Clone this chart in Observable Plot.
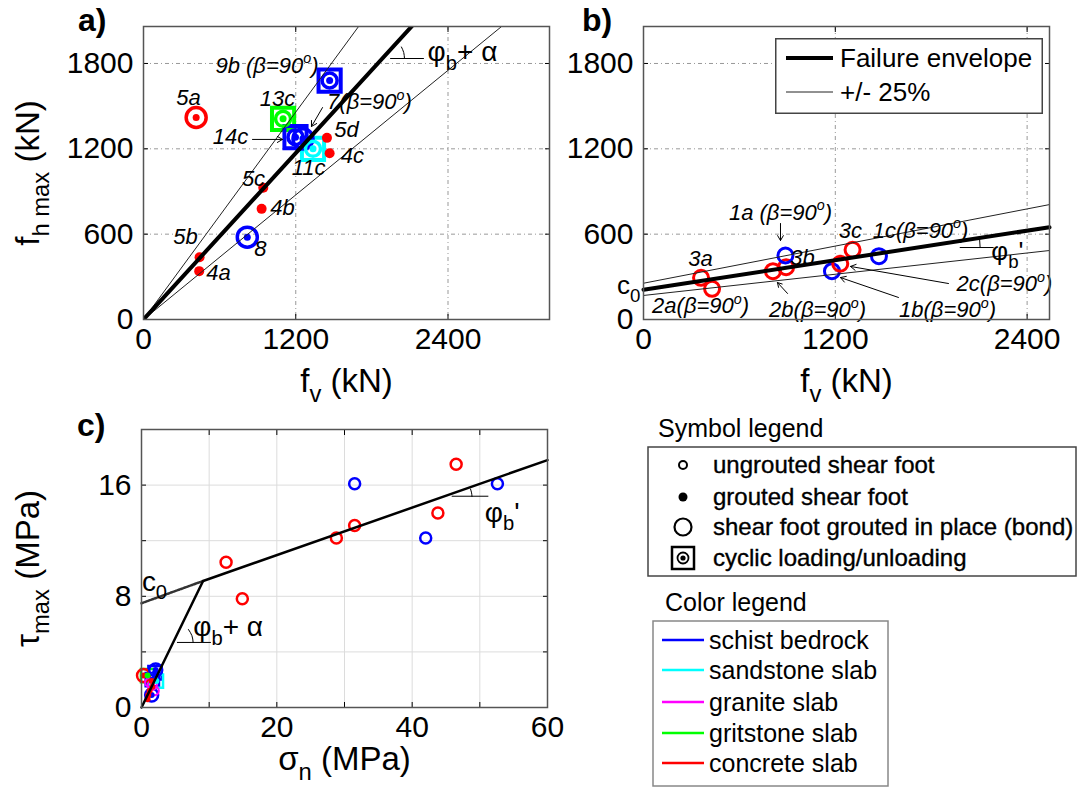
<!DOCTYPE html>
<html><head><meta charset="utf-8">
<script src="https://cdn.jsdelivr.net/npm/d3@7"></script>
<script src="https://cdn.jsdelivr.net/npm/@observablehq/plot@0.6"></script>
<style>
html,body{margin:0;padding:0;background:#fff;}
#root{position:relative;width:1077px;height:789px;overflow:hidden;background:#fff;font-family:"Liberation Sans",Arial,Helvetica,sans-serif;color:#000;}
.plab{position:absolute;font-weight:bold;font-size:32px;line-height:32px;}
</style></head><body><div id="root"></div>
<script>
// ---------------- data ----------------
const rockTypes = ["schist bedrock","sandstone slab","granite slab","gritstone slab","concrete slab"];
const rockColors = ["#0000ff","#00ffff","#ff00ff","#00ff00","#ff0000"];
const symbolLegend = ["ungrouted shear foot","grouted shear foot","shear foot grouted in place (bond)","cyclic loading/unloading"];

// panel a : fv (kN) vs fh max (kN)
const aTest = ["5a","8","9b","13c","11c","14c","7","5d","4c","5c","4b","5b","4a"];
const aFv   = [415,818,1467,1100,1336,1198,1257,1446,1467,944,931,442,439];
const aFh   = [1420,579,1680,1411,1200,1282,1270,1277,1169,926,778,438,340];
const aRock = ["concrete slab","schist bedrock","schist bedrock","gritstone slab","sandstone slab","schist bedrock","schist bedrock","concrete slab","concrete slab","concrete slab","concrete slab","concrete slab","concrete slab"];
const aKind = ["bond","bond","cyclic","cyclic","cyclic","cyclic","bond","grouted","grouted","grouted","grouted","grouted","grouted"];
const aXTicks = [0,1200,2400];
const aYTicks = [0,600,1200,1800];
const aLineFv  = [0,2154];   // failure envelope
const aPlusFv  = [0,1728];   // +25%
const aMinusFv = [0,2877];   // -25%
const aLineFh  = [0,2100];
const aNoteText = ["9b (β=90^{o})","5a","13c","7(β=90^{o})","14c","5d","4c","11c","5c","4b","8","5b","4a"];
const aNoteX    = [973,355,1056,1781,686,1600,1647,1301,867,1096,922,331,591];
const aNoteY    = [1786,1561,1554,1530,1280,1336,1150,1062,991,787,499,577,330];
const aArrowX1 = [859,1411], aArrowY1 = [1266,1490], aArrowX2 = [1096,1324], aArrowY2 = [1266,1357];
const aAngleFv = [1947,2207], aAngleFh = [1835,1835];
const aArcFv = [2057,2051,2033], aArcFh = [1835,1877,1916];

// panel b
const bTest = ["3a","2a","2b","3b","1a","1b","2c","3c","1c"];
const bFv   = [360,429,810,892,888,1179,1231,1308,1473];
const bFh   = [293,216,340,368,450,340,392,490,445];
const bRock = ["concrete slab","concrete slab","concrete slab","concrete slab","schist bedrock","schist bedrock","concrete slab","concrete slab","schist bedrock"];
const bXTicks = [0,1200,2400];
const bYTicks = [0,600,1200,1800];
const bLineFv = [0,2540];
const bLineFh = [209,649], bPlusFh = [255,808], bMinusFh = [169,485];
const bNoteText = ["1a (β=90^{o})","3a","3b","3c","1c(β=90^{o})","2c(β=90^{o})","1b(β=90^{o})","2b(β=90^{o})","2a(β=90^{o})"];
const bNoteX    = [857,357,995,1295,1733,2258,1902,1089,357];
const bNoteY    = [752,429,436,626,626,250,66,68,93];
const bArrowX1 = [857,1908,1595,901], bArrowY1 = [675,253,155,183];
const bArrowX2 = [857,1295,1232,838], bArrowY2 = [555,373,295,260];
const bAngleFv = [1981,2188], bAngleFh = [506,506];
const bArcFv = [2106,2103], bArcFh = [506,560];

// panel c : sigma_n (MPa) vs tau_max (MPa)
const cSigma = [12.5,14.9,28.8,31.5,31.5,42.0,43.8,46.5,52.6];
const cTau   = [10.45,7.82,12.2,13.1,16.1,12.2,14.0,17.5,16.1];
const cRock  = ["concrete slab","concrete slab","concrete slab","concrete slab","schist bedrock","schist bedrock","concrete slab","concrete slab","schist bedrock"];
const cClSigma = [0.3,0.9,2.0,1.6,2.1,2.2,1.5,1.6,1.9,1.2,1.5,1.2,1.0,1.6,0.9];
const cClTau   = [2.3,2.3,2.5,2.0,2.7,1.9,0.9,1.6,1.2,1.8,1.9,1.2,0.9,1.5,0.6];
const cClRock  = ["concrete slab","gritstone slab","schist bedrock","schist bedrock","schist bedrock","sandstone slab","schist bedrock","granite slab","granite slab","granite slab","concrete slab","concrete slab","concrete slab","concrete slab","concrete slab"];
const cClKind  = ["bond","cyclic","cyclic","cyclic","bond","cyclic","bond","ungrouted","ungrouted","ungrouted","grouted","grouted","grouted","grouted","grouted"];
const cXTicks = [0,10,20,30,40,50,60];
const cYTicks = [0,4,8,12,16];
const cSteepSigma = [0,9.1], cSteepTau = [0,9.1];
const cFlatSigma = [9.1,60], cFlatTau = [9.1,17.8];
const cCohSigma = [0,9.1], cCohTau = [7.5,9.1];
const cNoteText = ["c_{0}","φ_{b}+ α","φ_{b}'"];
const cNoteX = [1.92,12.8,53.3], cNoteY = [9.06,5.77,14.0];
const cAngle1Sigma = [5.3,10.2], cAngle1Tau = [4.68,4.68];
const cArc1Sigma = [7.63,7.45,6.94], cArc1Tau = [4.68,5.17,5.61];
const cAngle2Sigma = [45.9,51.2], cAngle2Tau = [15.2,15.2];
const cArc2Sigma = [48.84,48.78,48.62], cArc2Tau = [15.18,15.44,15.72];

// ---------------- helpers ----------------
const FONT = '"Liberation Sans", Arial, Helvetica, sans-serif';
const root = document.getElementById("root");
function place(node, left, top){ node.style.position="absolute"; node.style.left=left+"px"; node.style.top=top+"px"; root.appendChild(node); return node; }
function rich(svg){
  svg.querySelectorAll("text").forEach(t=>{
    const s=t.textContent;
    if(!/[_^]\{/.test(s)) return;
    const holder=t.closest("[font-size]");
    const fs=holder?parseFloat(holder.getAttribute("font-size")):30;
    const parts=s.split(/([_^]\{[^}]*\})/).filter(p=>p.length);
    while(t.firstChild) t.removeChild(t.firstChild);
    let cur=0;
    for(const p of parts){
      const ts=document.createElementNS("http://www.w3.org/2000/svg","tspan");
      let shift=0, txt=p;
      if(p.startsWith("_{")){shift=0.3*fs; txt=p.slice(2,-1); ts.setAttribute("font-size",(0.72*fs).toFixed(1));}
      else if(p.startsWith("^{")){shift=-0.42*fs; txt=p.slice(2,-1); ts.setAttribute("font-size",(0.65*fs).toFixed(1));}
      ts.setAttribute("dy",(shift-cur).toFixed(1)); cur=shift;
      ts.textContent=txt; t.appendChild(ts);
    }
  });
}
const colorOpt = {domain: rockTypes, range: rockColors};
function base(w,h,ml,mr,mt,mb){
  return {width:w,height:h,marginLeft:ml,marginRight:mr,marginTop:mt,marginBottom:mb,
    color:colorOpt, r:{type:"identity"},
    style:{fontFamily:FONT,fontSize:"30px",color:"#000",background:"transparent",overflow:"visible"}};
}
function boxAxes(xTicks,yTicks,xFmt,yFmt){
  const none=()=>"";
  return [
    Plot.axisX({ticks:xTicks,tickSize:0,tickPadding:8,tickFormat:xFmt,label:null}),
    Plot.axisY({ticks:yTicks,tickSize:0,tickPadding:10,tickFormat:yFmt,label:null}),
    Plot.axisX({ticks:xTicks,tickSize:-5,tickFormat:none,label:null}),
    Plot.axisX({anchor:"top",ticks:xTicks,tickSize:-5,tickFormat:none,label:null}),
    Plot.axisY({ticks:yTicks,tickSize:-5,tickFormat:none,label:null}),
    Plot.axisY({anchor:"right",ticks:yTicks,tickSize:-5,tickFormat:none,label:null})
  ];
}
const frame = () => Plot.frame({stroke:"#555",strokeWidth:1.5});
const dashGrid = {stroke:"#999",strokeOpacity:1,strokeDasharray:"4,3,1,3"};

// ---------------- panel a ----------------
const aRows = aTest.map((id,i)=>({id,fv:aFv[i],fh:aFh[i],rock:aRock[i],kind:aKind[i]}));
const plotA = Plot.plot({...base(560,400,143,11,26,81),
  x:{domain:[0,3200]}, y:{domain:[0,2060]},
  marks:[
    Plot.gridX({ticks:aXTicks.slice(1),...dashGrid}),
    Plot.gridY({ticks:aYTicks.slice(1),...dashGrid}),
    ...boxAxes(aXTicks,aYTicks,d=>String(d),d=>String(d)),
    Plot.dot(aRows.filter(d=>d.kind==="cyclic"),{x:"fv",y:"fh",symbol:"square",r:12.5,stroke:"rock",strokeWidth:4,fill:"none"}),
    Plot.dot(aRows.filter(d=>d.kind!=="grouted"),{x:"fv",y:"fh",r:d=>d.kind==="bond"?10:7.5,stroke:"rock",strokeWidth:3.5,fill:"none"}),
    Plot.dot(aRows,{x:"fv",y:"fh",r:d=>d.kind==="grouted"?5:3.5,fill:"rock"}),
    Plot.line(aLineFv,{x:aPlusFv,y:aLineFh,stroke:"#222",strokeWidth:1,clip:true}),
    Plot.line(aLineFv,{x:aMinusFv,y:aLineFh,stroke:"#222",strokeWidth:1,clip:true}),
    Plot.line(aLineFv,{x:aLineFv,y:aLineFh,stroke:"#000",strokeWidth:4,clip:true}),
    Plot.line(aAngleFv,{x:aAngleFv,y:aAngleFh,stroke:"#000",strokeWidth:1}),
    Plot.line(aArcFv,{x:aArcFv,y:aArcFh,stroke:"#000",strokeWidth:1,curve:"natural"}),
    Plot.arrow(aArrowX1,{x1:aArrowX1,y1:aArrowY1,x2:aArrowX2,y2:aArrowY2,stroke:"#000",strokeWidth:1,headLength:9}),
    Plot.text(aNoteText,{x:aNoteX,y:aNoteY,text:d=>d,fontSize:22,fontStyle:"italic"}),
    Plot.text(["φ_{b}+ α"],{x:[2514],y:[1877],text:d=>d,fontSize:28}),
    Plot.text(["f_{v} (kN)"],{frameAnchor:"bottom",dy:62,lineAnchor:"middle",textAnchor:"middle",text:d=>d,fontSize:33}),
    Plot.text(["f_{h max} (kN)"],{frameAnchor:"left",dx:-115,rotate:-90,lineAnchor:"middle",textAnchor:"middle",text:d=>d,fontSize:33}),
    frame()
  ]});
place(plotA,0,0); rich(plotA);

// ---------------- panel b ----------------
const bRows = bTest.map((id,i)=>({id,fv:bFv[i],fh:bFh[i],rock:bRock[i]}));
const plotB = Plot.plot({...base(517,400,83,28,26,81),
  x:{domain:[0,2540]}, y:{domain:[0,2060]},
  marks:[
    Plot.gridX({ticks:bXTicks.slice(1),...dashGrid}),
    Plot.gridY({ticks:bYTicks.slice(1),...dashGrid}),
    ...boxAxes(bXTicks,bYTicks,d=>String(d),d=>String(d)),
    Plot.dot(bRows,{x:"fv",y:"fh",r:7.5,stroke:"rock",strokeWidth:3,fill:"none"}),
    Plot.line(bLineFv,{x:bLineFv,y:bPlusFh,stroke:"#222",strokeWidth:1}),
    Plot.line(bLineFv,{x:bLineFv,y:bMinusFh,stroke:"#222",strokeWidth:1}),
    Plot.line(bLineFv,{x:bLineFv,y:bLineFh,stroke:"#000",strokeWidth:4}),
    Plot.line(bAngleFv,{x:bAngleFv,y:bAngleFh,stroke:"#000",strokeWidth:1}),
    Plot.line(bArcFv,{x:bArcFv,y:bArcFh,stroke:"#000",strokeWidth:1}),
    Plot.arrow(bArrowX1,{x1:bArrowX1,y1:bArrowY1,x2:bArrowX2,y2:bArrowY2,stroke:"#000",strokeWidth:1,headLength:9}),
    Plot.text(bNoteText,{x:bNoteX,y:bNoteY,text:d=>d,fontSize:22,fontStyle:"italic"}),
    Plot.text(["c_{0}","φ_{b}'"],{x:[-92,2277],y:[238,478],text:d=>d,fontSize:26}),
    Plot.text(["f_{v} (kN)"],{frameAnchor:"bottom",dy:62,lineAnchor:"middle",textAnchor:"middle",text:d=>d,fontSize:33}),
    frame()
  ]});
place(plotB,560,0); rich(plotB);

// legend inside b
{
  const lg = d3.create("svg").attr("width",268).attr("height",76).style("font-family",FONT);
  lg.append("rect").attr("x",0.75).attr("y",0.75).attr("width",266.5).attr("height",74.5).attr("fill","#fff").attr("stroke","#444").attr("stroke-width",1.5);
  lg.append("line").attr("x1",11).attr("x2",58).attr("y1",20).attr("y2",20).attr("stroke","#000").attr("stroke-width",4);
  lg.append("text").attr("x",65).attr("y",29).attr("font-size",26).text("Failure envelope");
  lg.append("line").attr("x1",11).attr("x2",58).attr("y1",54).attr("y2",54).attr("stroke","#222").attr("stroke-width",1);
  lg.append("text").attr("x",65).attr("y",63).attr("font-size",26).text("+/- 25%");
  place(lg.node(),775,38);
}

// ---------------- panel c ----------------
const cRows = cSigma.map((s,i)=>({s,t:cTau[i],rock:cRock[i]}));
const cCl = cClSigma.map((s,i)=>({s,t:cClTau[i],rock:cClRock[i],kind:cClKind[i]}));
const plotC = Plot.plot({...base(560,389,141,13,29,82),
  x:{domain:[0,60]}, y:{domain:[0,20]},
  marks:[
    Plot.gridX({ticks:[10,20,30,40,50],stroke:"#dcdcdc",strokeOpacity:1}),
    Plot.gridY({ticks:[4,8,12,16],stroke:"#dcdcdc",strokeOpacity:1}),
    ...boxAxes(cXTicks,cYTicks,d=>d%20===0?String(d):"",d=>d%8===0?String(d):""),
    Plot.dot(cRows,{x:"s",y:"t",r:5.5,stroke:"rock",strokeWidth:2.5,fill:"none"}),
    Plot.dot(cCl.filter(d=>d.kind==="cyclic"),{x:"s",y:"t",symbol:"square",r:7.5,stroke:"rock",strokeWidth:2.5,fill:"none"}),
    Plot.dot(cCl.filter(d=>d.kind==="bond"),{x:"s",y:"t",r:6.5,stroke:"rock",strokeWidth:2.5,fill:"none"}),
    Plot.dot(cCl.filter(d=>d.kind==="ungrouted"),{x:"s",y:"t",r:4.5,stroke:"rock",strokeWidth:2,fill:"none"}),
    Plot.dot(cCl.filter(d=>d.kind!=="ungrouted"),{x:"s",y:"t",r:3,fill:"rock"}),
    Plot.line(cCohSigma,{x:cCohSigma,y:cCohTau,stroke:"#333",strokeWidth:2.5,strokeDasharray:"2,1.5"}),
    Plot.line(cSteepSigma,{x:cSteepSigma,y:cSteepTau,stroke:"#000",strokeWidth:2.5}),
    Plot.line(cFlatSigma,{x:cFlatSigma,y:cFlatTau,stroke:"#000",strokeWidth:2.5}),
    Plot.line(cAngle1Sigma,{x:cAngle1Sigma,y:cAngle1Tau,stroke:"#000",strokeWidth:1}),
    Plot.line(cArc1Sigma,{x:cArc1Sigma,y:cArc1Tau,stroke:"#000",strokeWidth:1,curve:"natural"}),
    Plot.line(cAngle2Sigma,{x:cAngle2Sigma,y:cAngle2Tau,stroke:"#000",strokeWidth:1}),
    Plot.line(cArc2Sigma,{x:cArc2Sigma,y:cArc2Tau,stroke:"#000",strokeWidth:1,curve:"natural"}),
    Plot.text(cNoteText,{x:cNoteX,y:cNoteY,text:d=>d,fontSize:28}),
    Plot.text(["σ_{n} (MPa)"],{frameAnchor:"bottom",dy:52,lineAnchor:"middle",textAnchor:"middle",text:d=>d,fontSize:33}),
    Plot.text(["τ_{max} (MPa)"],{frameAnchor:"left",dx:-113,rotate:-90,lineAnchor:"middle",textAnchor:"middle",text:d=>d,fontSize:33}),
    frame()
  ]});
place(plotC,0,400); rich(plotC);

// ---------------- legends (bottom right) ----------------
{
  const g = d3.create("svg").attr("width",437).attr("height",389).style("font-family",FONT);
  g.append("text").attr("x",18).attr("y",37).attr("font-size",25).text("Symbol legend");
  g.append("rect").attr("x",8).attr("y",47).attr("width",428).attr("height",129).attr("fill","none").attr("stroke","#444").attr("stroke-width",1.5);
  const rowsY = [65,97,127,158];
  g.append("circle").attr("cx",43).attr("cy",rowsY[0]).attr("r",4).attr("fill","none").attr("stroke","#000").attr("stroke-width",2);
  g.append("circle").attr("cx",43).attr("cy",rowsY[1]).attr("r",4.5).attr("fill","#000");
  g.append("circle").attr("cx",43).attr("cy",rowsY[2]).attr("r",8.5).attr("fill","none").attr("stroke","#000").attr("stroke-width",2.2);
  g.append("rect").attr("x",32).attr("y",rowsY[3]-11).attr("width",22).attr("height",22).attr("fill","none").attr("stroke","#000").attr("stroke-width",2.5);
  g.append("circle").attr("cx",43).attr("cy",rowsY[3]).attr("r",5.5).attr("fill","none").attr("stroke","#000").attr("stroke-width",1.8);
  g.append("circle").attr("cx",43).attr("cy",rowsY[3]).attr("r",2.6).attr("fill","#000");
  symbolLegend.forEach((s,i)=>g.append("text").attr("x",73).attr("y",rowsY[i]+8).attr("font-size",24).attr("stroke","#000").attr("stroke-width",0.35).text(s));
  g.append("text").attr("x",25).attr("y",211).attr("font-size",25).text("Color legend");
  g.append("rect").attr("x",13).attr("y",221).attr("width",235).attr("height",165).attr("fill","none").attr("stroke","#888").attr("stroke-width",1.5);
  const cy = [240,270,302,333,363];
  rockTypes.forEach((r,i)=>{
    g.append("line").attr("x1",22).attr("x2",64).attr("y1",cy[i]).attr("y2",cy[i]).attr("stroke",rockColors[i]).attr("stroke-width",2.5);
    g.append("text").attr("x",69).attr("y",cy[i]+9).attr("font-size",25).text(r);
  });
  place(g.node(),640,400);
}

// panel letters
[["a)",78,4],["b)",582,4],["c)",77,409]].forEach(([t,x,y])=>{const d=document.createElement("div");d.className="plab";d.textContent=t;place(d,x,y);});
</script></body></html>
